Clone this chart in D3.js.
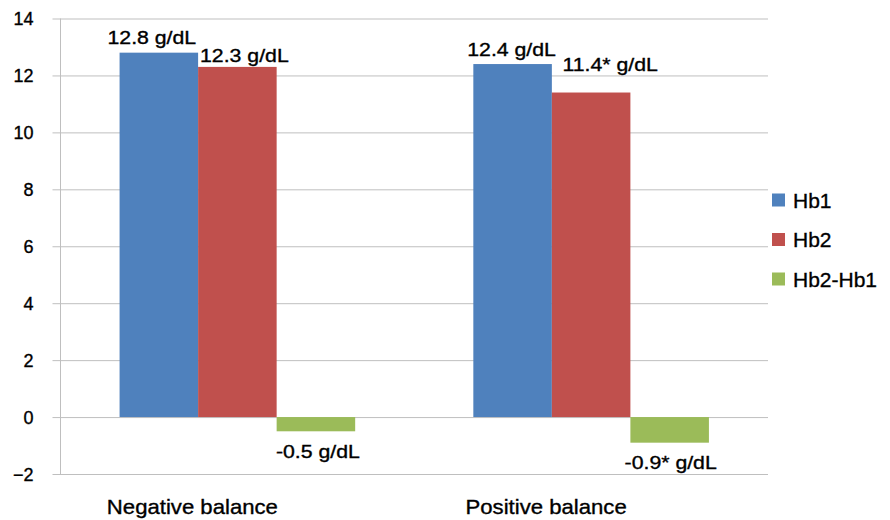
<!DOCTYPE html>
<html><head><meta charset="utf-8">
<script src="https://cdn.jsdelivr.net/npm/d3@7"></script>
<style>body{margin:0;background:#fff}text{font-family:"Liberation Sans",Arial,sans-serif;fill:#000;stroke:#000;stroke-width:0.35px}</style>
</head><body><svg id="c" width="890" height="520"></svg>
<script>
const categories = ["Negative balance", "Positive balance"];
const seriesNames = ["Hb1", "Hb2", "Hb2-Hb1"];
const hb1 = [12.8, 12.4];
const hb2 = [12.3, 11.4];
const diff = [-0.5, -0.9];
const labels = [["12.8 g/dL", "12.4 g/dL"], ["12.3 g/dL", "11.4* g/dL"], ["-0.5 g/dL", "-0.9* g/dL"]];
const yTicks = [-2, 0, 2, 4, 6, 8, 10, 12, 14];
const colors = ["#4F81BD", "#C0504D", "#9BBB59"];

(function () {
const series = [hb1, hb2, diff];
const svg = d3.select("#c");
const pL = 60.5, pR = 768, pT = 18.5, pB = 474;
const y = d3.scaleLinear().domain([-2, 14]).range([pB, pT]);
const x0 = d3.scaleBand().domain(categories).range([pL, pR]).paddingInner(0.334).paddingOuter(0.167);
const x1 = d3.scaleBand().domain(seriesNames).range([0, x0.bandwidth()]);

const yAxis = d3.axisLeft(y).tickValues(yTicks).tickSize(-(pR - pL) - 8).tickPadding(19).tickFormat(d3.format("d"));
const ga = svg.append("g").attr("transform", `translate(${pL - 8},0)`);
ga.call(yAxis);
ga.select(".domain").remove();
ga.selectAll(".tick line").attr("stroke", "#bfbfbf").attr("stroke-width", 1);
ga.selectAll(".tick text").attr("font-size", 18).attr("fill", "#000").style("font-family", "Liberation Sans, Arial, sans-serif").attr("dy", "0.36em");
svg.append("line").attr("x1", pL).attr("x2", pL).attr("y1", pT).attr("y2", pB).attr("stroke", "#bfbfbf");

series.forEach((vals, si) => {
  svg.append("g").selectAll("rect").data(vals).join("rect")
    .attr("x", (d, i) => x0(categories[i]) + x1(seriesNames[si]))
    .attr("width", x1.bandwidth())
    .attr("y", d => y(Math.max(0, d)))
    .attr("height", d => Math.abs(y(d) - y(0)))
    .attr("fill", colors[si]);
});

const dxs = [[-7, -1], [7, 19], [2, 1]];
const dys = [[-9, -8], [-5, -22], [27, 26]];
series.forEach((vals, si) => {
  vals.forEach((v, i) => {
    const cx = x0(categories[i]) + x1(seriesNames[si]) + x1.bandwidth() / 2 + dxs[si][i];
    const by = y(v) + dys[si][i];
    svg.append("text").attr("transform", `translate(${cx},${by}) scale(1.15,1)`)
      .attr("text-anchor", "middle").attr("font-size", 18.5).text(labels[si][i]);
  });
});

categories.forEach(c => {
  svg.append("text").attr("transform", `translate(${x0(c) + x0.bandwidth() / 2 - 45},${514}) scale(1.08,1)`)
    .attr("text-anchor", "middle").attr("font-size", 20.5).text(c);
});

const lg = svg.append("g").attr("transform", "translate(772,0)");
seriesNames.forEach((s, i) => {
  const cy = 200 + i * 39.5;
  lg.append("rect").attr("x", 0).attr("y", cy - 6.5).attr("width", 13).attr("height", 13).attr("fill", colors[i]);
  lg.append("text").attr("x", 21).attr("y", cy).attr("dy", "0.36em").attr("font-size", 21).text(s);
});
})();
</script></body></html>
